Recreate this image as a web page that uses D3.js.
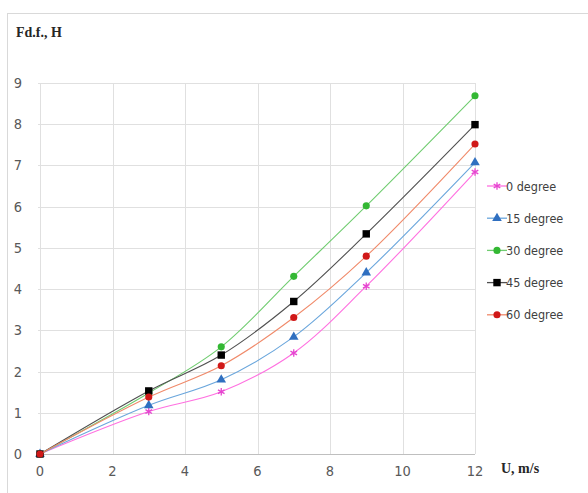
<!DOCTYPE html>
<html>
<head>
<meta charset="utf-8">
<script src="https://cdn.jsdelivr.net/npm/d3@7"></script>
<style>
  body { margin: 0; background: #fff; }
  svg { display: block; }
</style>
</head>
<body>
<svg id="chart" width="588" height="493"></svg>
<script>
// speeds, m/s
const speeds = [0, 3, 5, 7, 9, 12];

const seriesNames = ["0 degree", "15 degree", "30 degree", "45 degree", "60 degree"];
const deg0  = [0, 1.03, 1.51, 2.45, 4.07, 6.84];
const deg15 = [0, 1.18, 1.80, 2.84, 4.40, 7.07];
const deg30 = [0, 1.48, 2.60, 4.31, 6.02, 8.69];
const deg45 = [0, 1.53, 2.40, 3.70, 5.34, 7.99];
const deg60 = [0, 1.38, 2.14, 3.31, 4.80, 7.52];

const xTicks = [0, 2, 4, 6, 8, 10, 12];
const yTicks = [0, 1, 2, 3, 4, 5, 6, 7, 8, 9];

const svg = d3.select("#chart");

// chart frame
svg.append("rect")
  .attr("x", 7.5).attr("y", 13.5)
  .attr("width", 600).attr("height", 500)
  .attr("fill", "none").attr("stroke", "#d9d9d9");

const x = d3.scaleLinear().domain([0, 12]).range([40, 475]);
const y = d3.scaleLinear().domain([0, 9]).range([454, 83]);

// grid
svg.append("g")
  .selectAll("line.h")
  .data(yTicks)
  .enter().append("line")
  .attr("x1", x(0) - 2).attr("x2", x(12))
  .attr("y1", d => Math.round(y(d)) + 0.5).attr("y2", d => Math.round(y(d)) + 0.5)
  .attr("stroke", d => d === 0 ? "#bfbfbf" : "#e0e0e0");

svg.append("g")
  .selectAll("line.v")
  .data(xTicks)
  .enter().append("line")
  .attr("x1", d => Math.round(x(d)) + 0.5).attr("x2", d => Math.round(x(d)) + 0.5)
  .attr("y1", y(9)).attr("y2", y(0))
  .attr("stroke", "#e0e0e0");

// tick labels
const tickFont = "'DejaVu Sans Condensed', 'DejaVu Sans', sans-serif";
svg.append("g")
  .selectAll("text")
  .data(yTicks)
  .enter().append("text")
  .attr("x", 18).attr("y", d => y(d) + 5)
  .attr("text-anchor", "middle")
  .attr("font-family", tickFont).attr("font-size", 14.5)
  .attr("fill", "#595959")
  .text(d => d);

svg.append("g")
  .selectAll("text")
  .data(xTicks)
  .enter().append("text")
  .attr("x", d => x(d)).attr("y", 476)
  .attr("text-anchor", "middle")
  .attr("font-family", tickFont).attr("font-size", 14.5)
  .attr("fill", "#595959")
  .text(d => d);

// axis titles
svg.append("text")
  .attr("x", 16).attr("y", 37)
  .attr("font-family", "'Liberation Serif', serif").attr("font-weight", "bold")
  .attr("font-size", 14).attr("fill", "#262626")
  .text("Fd.f., H");

svg.append("text")
  .attr("x", 501).attr("y", 473)
  .attr("font-family", "'Liberation Serif', serif").attr("font-weight", "bold")
  .attr("font-size", 14).attr("fill", "#262626")
  .text("U, m/s");

// series
const series = [
  { name: seriesNames[0], values: deg0,  line: "#ff70e0", mark: "#e645d0", shape: "star" },
  { name: seriesNames[1], values: deg15, line: "#6aa6dc", mark: "#2f6fc0", shape: "triangle" },
  { name: seriesNames[2], values: deg30, line: "#70cc70", mark: "#33b833", shape: "circle" },
  { name: seriesNames[3], values: deg45, line: "#505050", mark: "#000000", shape: "square" },
  { name: seriesNames[4], values: deg60, line: "#f08a6a", mark: "#d01818", shape: "circle" }
];

const symbolFor = {
  star: d3.symbol().type(d3.symbolAsterisk).size(40),
  triangle: d3.symbol().type(d3.symbolTriangle).size(40),
  circle: d3.symbol().type(d3.symbolCircle).size(40),
  square: d3.symbol().type(d3.symbolSquare).size(55)
};

const line = d3.line()
  .x(d => x(d[0]))
  .y(d => y(d[1]))
  .curve(d3.curveCatmullRom.alpha(0.5));

series.forEach(s => {
  const pts = speeds.map((u, i) => [u, s.values[i]]);
  const g = svg.append("g");
  g.append("path")
    .datum(pts)
    .attr("d", line)
    .attr("fill", "none")
    .attr("stroke", s.line)
    .attr("stroke-width", 1.1);
  g.selectAll("path.m")
    .data(pts)
    .enter().append("path")
    .attr("transform", d => `translate(${x(d[0])},${y(d[1])})`)
    .attr("d", symbolFor[s.shape])
    .attr("fill", s.shape === "star" ? "none" : s.mark)
    .attr("stroke", s.shape === "star" ? s.mark : "none")
    .attr("stroke-width", 1.3);
});

// legend
const legend = svg.append("g")
  .selectAll("g")
  .data(series)
  .enter().append("g")
  .attr("transform", (d, i) => `translate(487,${186 + i * 32.2})`);

legend.append("line")
  .attr("x1", 0).attr("x2", 20)
  .attr("stroke", d => d.line).attr("stroke-width", 1.3);

legend.append("path")
  .attr("transform", "translate(10,0)")
  .attr("d", d => symbolFor[d.shape]())
  .attr("fill", d => d.shape === "star" ? "none" : d.mark)
  .attr("stroke", d => d.shape === "star" ? d.mark : "none")
  .attr("stroke-width", 1.3);

legend.append("text")
  .attr("x", 19).attr("y", 4.5)
  .attr("font-family", tickFont).attr("font-size", 12.5)
  .attr("fill", "#404040")
  .text(d => d.name);
</script>
</body>
</html>
